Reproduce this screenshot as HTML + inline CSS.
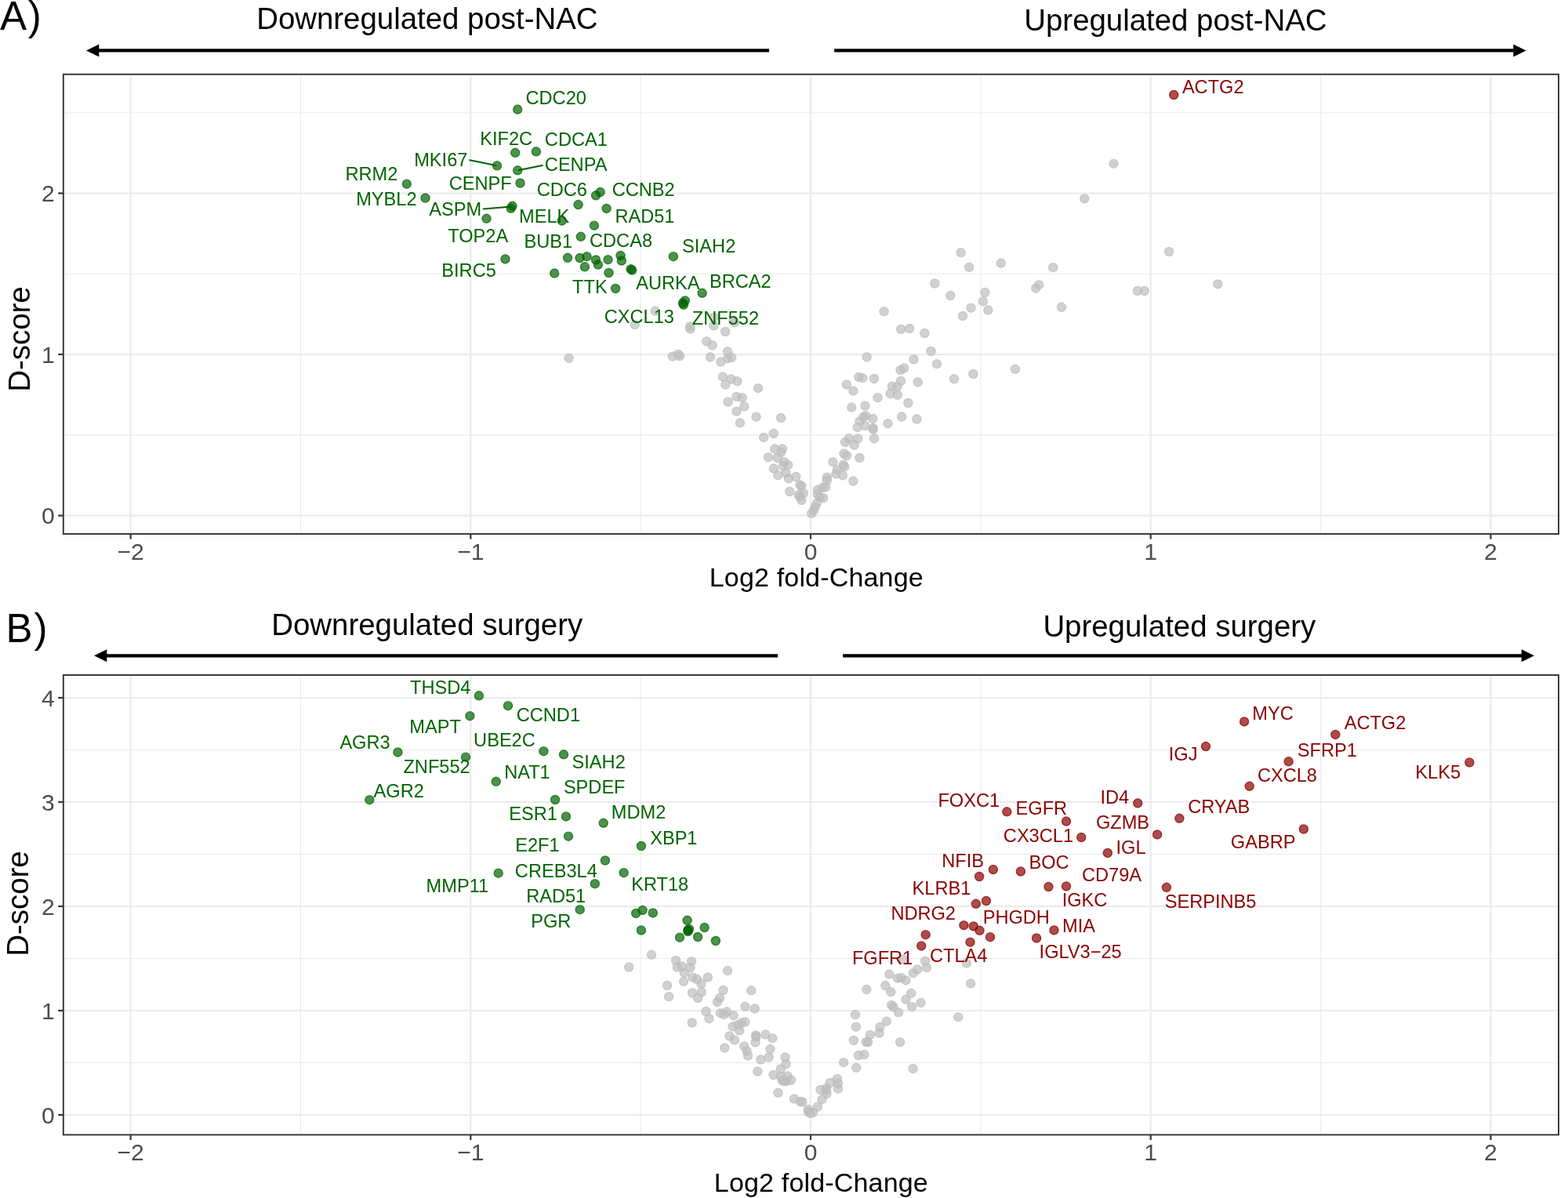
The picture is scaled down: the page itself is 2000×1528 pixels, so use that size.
<!DOCTYPE html>
<html><head><meta charset="utf-8"><title>Volcano plots</title>
<style>html,body{margin:0;padding:0;background:#fff;width:2000px;height:1528px;overflow:hidden}</style>
</head><body>
<svg width="2000" height="1528" viewBox="0 0 2000 1528" style="position:absolute;left:0;top:0">
<rect x="0" y="0" width="2000" height="1528" fill="#fff"/>
<g font-family='"Liberation Sans", Arial, Helvetica, sans-serif'>
<line x1="383.45" y1="94.8" x2="383.45" y2="681" stroke="#EBEBEB" stroke-width="1.1"/>
<line x1="817.15" y1="94.8" x2="817.15" y2="681" stroke="#EBEBEB" stroke-width="1.1"/>
<line x1="1250.85" y1="94.8" x2="1250.85" y2="681" stroke="#EBEBEB" stroke-width="1.1"/>
<line x1="1684.55" y1="94.8" x2="1684.55" y2="681" stroke="#EBEBEB" stroke-width="1.1"/>
<line x1="80.8" y1="554.83" x2="1988" y2="554.83" stroke="#EBEBEB" stroke-width="1.1"/>
<line x1="80.8" y1="349.27" x2="1988" y2="349.27" stroke="#EBEBEB" stroke-width="1.1"/>
<line x1="80.8" y1="143.73" x2="1988" y2="143.73" stroke="#EBEBEB" stroke-width="1.1"/>
<line x1="166.60" y1="94.8" x2="166.60" y2="681" stroke="#EBEBEB" stroke-width="2.2"/>
<line x1="600.30" y1="94.8" x2="600.30" y2="681" stroke="#EBEBEB" stroke-width="2.2"/>
<line x1="1034.00" y1="94.8" x2="1034.00" y2="681" stroke="#EBEBEB" stroke-width="2.2"/>
<line x1="1467.70" y1="94.8" x2="1467.70" y2="681" stroke="#EBEBEB" stroke-width="2.2"/>
<line x1="1901.40" y1="94.8" x2="1901.40" y2="681" stroke="#EBEBEB" stroke-width="2.2"/>
<line x1="80.8" y1="657.60" x2="1988" y2="657.60" stroke="#EBEBEB" stroke-width="2.2"/>
<line x1="80.8" y1="452.05" x2="1988" y2="452.05" stroke="#EBEBEB" stroke-width="2.2"/>
<line x1="80.8" y1="246.50" x2="1988" y2="246.50" stroke="#EBEBEB" stroke-width="2.2"/>
<g fill="#BEBEBE" fill-opacity="0.7" stroke="#BEBEBE" stroke-opacity="0.7" stroke-width="1.4">
<circle cx="835.8" cy="396.6" r="5.55"/>
<circle cx="809.7" cy="414.1" r="5.55"/>
<circle cx="725.6" cy="456.8" r="5.55"/>
<circle cx="857.9" cy="454.5" r="5.55"/>
<circle cx="865.3" cy="451.9" r="5.55"/>
<circle cx="867.1" cy="454.2" r="5.55"/>
<circle cx="880" cy="416.5" r="5.55"/>
<circle cx="880.6" cy="419.5" r="5.55"/>
<circle cx="910.4" cy="415.3" r="5.55"/>
<circle cx="910.7" cy="404.7" r="5.55"/>
<circle cx="937.5" cy="411.2" r="5.55"/>
<circle cx="935.4" cy="408.9" r="5.55"/>
<circle cx="925.2" cy="423" r="5.55"/>
<circle cx="901.3" cy="435.4" r="5.55"/>
<circle cx="908.6" cy="440.3" r="5.55"/>
<circle cx="906" cy="455.4" r="5.55"/>
<circle cx="928.1" cy="448.3" r="5.55"/>
<circle cx="933.1" cy="456" r="5.55"/>
<circle cx="928.1" cy="457.2" r="5.55"/>
<circle cx="919.5" cy="461.5" r="5.55"/>
<circle cx="921.9" cy="480.7" r="5.55"/>
<circle cx="932.5" cy="483.4" r="5.55"/>
<circle cx="940.4" cy="486.3" r="5.55"/>
<circle cx="925.4" cy="490.7" r="5.55"/>
<circle cx="967" cy="495.2" r="5.55"/>
<circle cx="939.5" cy="506" r="5.55"/>
<circle cx="946.6" cy="507.2" r="5.55"/>
<circle cx="928.6" cy="512.5" r="5.55"/>
<circle cx="949.3" cy="518.4" r="5.55"/>
<circle cx="939.5" cy="524.7" r="5.55"/>
<circle cx="964.6" cy="531.7" r="5.55"/>
<circle cx="996.1" cy="533.1" r="5.55"/>
<circle cx="943.9" cy="539.3" r="5.55"/>
<circle cx="986.7" cy="552.9" r="5.55"/>
<circle cx="974.1" cy="557.9" r="5.55"/>
<circle cx="988.2" cy="572.6" r="5.55"/>
<circle cx="997.8" cy="572.4" r="5.55"/>
<circle cx="996.4" cy="576.8" r="5.55"/>
<circle cx="980" cy="583.2" r="5.55"/>
<circle cx="991.6" cy="584" r="5.55"/>
<circle cx="1000.4" cy="589.2" r="5.55"/>
<circle cx="1005.2" cy="593.2" r="5.55"/>
<circle cx="998.8" cy="594.4" r="5.55"/>
<circle cx="986.8" cy="597.6" r="5.55"/>
<circle cx="1002.4" cy="603.2" r="5.55"/>
<circle cx="992.4" cy="606.2" r="5.55"/>
<circle cx="1006" cy="610.4" r="5.55"/>
<circle cx="1015.2" cy="608" r="5.55"/>
<circle cx="1020.4" cy="618.4" r="5.55"/>
<circle cx="1022.4" cy="620" r="5.55"/>
<circle cx="1007.2" cy="627" r="5.55"/>
<circle cx="1018.8" cy="631.2" r="5.55"/>
<circle cx="1024.8" cy="629.2" r="5.55"/>
<circle cx="1020.4" cy="633.6" r="5.55"/>
<circle cx="1022.4" cy="638" r="5.55"/>
<circle cx="1035.2" cy="654.8" r="5.55"/>
<circle cx="1038" cy="651.2" r="5.55"/>
<circle cx="1042.8" cy="624.8" r="5.55"/>
<circle cx="1049.2" cy="622" r="5.55"/>
<circle cx="1053.2" cy="621.2" r="5.55"/>
<circle cx="1054.8" cy="608.8" r="5.55"/>
<circle cx="1054.8" cy="612.8" r="5.55"/>
<circle cx="1042.8" cy="630.4" r="5.55"/>
<circle cx="1046" cy="634.4" r="5.55"/>
<circle cx="1050" cy="635.2" r="5.55"/>
<circle cx="1042" cy="641.6" r="5.55"/>
<circle cx="1039.6" cy="646.4" r="5.55"/>
<circle cx="1062.4" cy="589.2" r="5.55"/>
<circle cx="1076.4" cy="578.4" r="5.55"/>
<circle cx="1080" cy="581.2" r="5.55"/>
<circle cx="1096.4" cy="584" r="5.55"/>
<circle cx="1075.6" cy="592.8" r="5.55"/>
<circle cx="1077.2" cy="595.2" r="5.55"/>
<circle cx="1068" cy="599.2" r="5.55"/>
<circle cx="1066.4" cy="604.4" r="5.55"/>
<circle cx="1074.8" cy="606.4" r="5.55"/>
<circle cx="1088.4" cy="613.6" r="5.55"/>
<circle cx="1078" cy="564" r="5.55"/>
<circle cx="1089.6" cy="567.6" r="5.55"/>
<circle cx="1083" cy="559" r="5.55"/>
<circle cx="1094.2" cy="559.5" r="5.55"/>
<circle cx="1115" cy="559.3" r="5.55"/>
<circle cx="1104.2" cy="530.2" r="5.55"/>
<circle cx="1101.3" cy="531.9" r="5.55"/>
<circle cx="1113.3" cy="534.1" r="5.55"/>
<circle cx="1096.5" cy="537.2" r="5.55"/>
<circle cx="1150.1" cy="531.6" r="5.55"/>
<circle cx="1169.3" cy="534.6" r="5.55"/>
<circle cx="1132.5" cy="540.2" r="5.55"/>
<circle cx="1093.6" cy="544.9" r="5.55"/>
<circle cx="1103.4" cy="543.1" r="5.55"/>
<circle cx="1113.6" cy="546.1" r="5.55"/>
<circle cx="1113.6" cy="547.8" r="5.55"/>
<circle cx="1086.2" cy="519.6" r="5.55"/>
<circle cx="1103.4" cy="517.6" r="5.55"/>
<circle cx="1158.4" cy="514" r="5.55"/>
<circle cx="1119.5" cy="507.2" r="5.55"/>
<circle cx="1135.7" cy="502" r="5.55"/>
<circle cx="1144.8" cy="503.7" r="5.55"/>
<circle cx="1137.8" cy="492.8" r="5.55"/>
<circle cx="1144.6" cy="493.1" r="5.55"/>
<circle cx="1149" cy="486" r="5.55"/>
<circle cx="1170.8" cy="487.4" r="5.55"/>
<circle cx="1079.8" cy="490.5" r="5.55"/>
<circle cx="1088.5" cy="498.7" r="5.55"/>
<circle cx="1095.4" cy="481" r="5.55"/>
<circle cx="1100.3" cy="482.2" r="5.55"/>
<circle cx="1114.9" cy="483" r="5.55"/>
<circle cx="1216.9" cy="483.3" r="5.55"/>
<circle cx="1153.1" cy="469.5" r="5.55"/>
<circle cx="1148.5" cy="472.1" r="5.55"/>
<circle cx="1194.9" cy="464.2" r="5.55"/>
<circle cx="1165.5" cy="458.3" r="5.55"/>
<circle cx="1105.6" cy="455.4" r="5.55"/>
<circle cx="1187.5" cy="448" r="5.55"/>
<circle cx="1149.2" cy="419.9" r="5.55"/>
<circle cx="1160.2" cy="419" r="5.55"/>
<circle cx="1179.4" cy="425.1" r="5.55"/>
<circle cx="1127.6" cy="397.3" r="5.55"/>
<circle cx="1225.7" cy="322.3" r="5.55"/>
<circle cx="1236.1" cy="340.8" r="5.55"/>
<circle cx="1276.7" cy="335.6" r="5.55"/>
<circle cx="1192.3" cy="361.5" r="5.55"/>
<circle cx="1212.3" cy="377" r="5.55"/>
<circle cx="1256.4" cy="373" r="5.55"/>
<circle cx="1253.8" cy="384.4" r="5.55"/>
<circle cx="1260.3" cy="395.5" r="5.55"/>
<circle cx="1238.5" cy="392.7" r="5.55"/>
<circle cx="1228" cy="403.1" r="5.55"/>
<circle cx="1294.8" cy="470.8" r="5.55"/>
<circle cx="1241.4" cy="477" r="5.55"/>
<circle cx="1420.5" cy="208.7" r="5.55"/>
<circle cx="1383.3" cy="253.4" r="5.55"/>
<circle cx="1491.1" cy="321" r="5.55"/>
<circle cx="1343.2" cy="341.2" r="5.55"/>
<circle cx="1325.2" cy="363.2" r="5.55"/>
<circle cx="1321.2" cy="367.7" r="5.55"/>
<circle cx="1450.8" cy="371" r="5.55"/>
<circle cx="1459.7" cy="371" r="5.55"/>
<circle cx="1553.3" cy="362.4" r="5.55"/>
<circle cx="1354" cy="391.8" r="5.55"/>
</g>
<g fill="#006400" fill-opacity="0.7" stroke="#006400" stroke-opacity="0.7" stroke-width="1.4">
<circle cx="660.2" cy="139.6" r="5.55"/>
<circle cx="657.2" cy="194.8" r="5.55"/>
<circle cx="683.9" cy="193.3" r="5.55"/>
<circle cx="634" cy="211.3" r="5.55"/>
<circle cx="660.2" cy="217.3" r="5.55"/>
<circle cx="663.5" cy="233.5" r="5.55"/>
<circle cx="518.8" cy="234.7" r="5.55"/>
<circle cx="542.5" cy="252.5" r="5.55"/>
<circle cx="653.5" cy="262.8" r="5.55"/>
<circle cx="651.7" cy="265.8" r="5.55"/>
<circle cx="620.5" cy="278.8" r="5.55"/>
<circle cx="716.7" cy="281.5" r="5.55"/>
<circle cx="765.6" cy="245.1" r="5.55"/>
<circle cx="760" cy="249.3" r="5.55"/>
<circle cx="737.6" cy="261.1" r="5.55"/>
<circle cx="773.6" cy="265.9" r="5.55"/>
<circle cx="757.9" cy="287.7" r="5.55"/>
<circle cx="740.8" cy="301.8" r="5.55"/>
<circle cx="858.9" cy="327.2" r="5.55"/>
<circle cx="724" cy="328.8" r="5.55"/>
<circle cx="739.5" cy="329.1" r="5.55"/>
<circle cx="748.5" cy="327.2" r="5.55"/>
<circle cx="760" cy="331.5" r="5.55"/>
<circle cx="775.5" cy="331.2" r="5.55"/>
<circle cx="791.5" cy="325.9" r="5.55"/>
<circle cx="792.8" cy="332.5" r="5.55"/>
<circle cx="762.9" cy="337.6" r="5.55"/>
<circle cx="745.9" cy="340.3" r="5.55"/>
<circle cx="804.6" cy="343.2" r="5.55"/>
<circle cx="806.2" cy="344.6" r="5.55"/>
<circle cx="707.2" cy="348.6" r="5.55"/>
<circle cx="776.5" cy="348" r="5.55"/>
<circle cx="785.1" cy="368" r="5.55"/>
<circle cx="895.6" cy="373.8" r="5.55"/>
<circle cx="871" cy="386.5" r="5.55"/>
<circle cx="873.8" cy="383.5" r="5.55"/>
<circle cx="872" cy="388.8" r="5.55"/>
<circle cx="644.5" cy="330.4" r="5.55"/>
</g>
<g fill="#8B0000" fill-opacity="0.7" stroke="#8B0000" stroke-opacity="0.7" stroke-width="1.4">
<circle cx="1497.2" cy="121" r="5.55"/>
</g>
<line x1="599.2" y1="204.2" x2="632.5" y2="211" stroke="#006400" stroke-width="2.1" stroke-linecap="round"/>
<line x1="661.7" y1="217" x2="691.7" y2="211" stroke="#006400" stroke-width="2.1" stroke-linecap="round"/>
<line x1="616.75" y1="266.5" x2="652" y2="263.5" stroke="#006400" stroke-width="2.1" stroke-linecap="round"/>
<g font-size="23.6" fill="#006400">
<text x="670.55" y="133.10">CDC20</text>
<text x="612.20" y="185.30">KIF2C</text>
<text x="694.85" y="186.10">CDCA1</text>
<text x="528.20" y="211.60">MKI67</text>
<text x="694.85" y="217.80">CENPA</text>
<text x="440.50" y="229.90">RRM2</text>
<text x="572.75" y="242.40">CENPF</text>
<text x="684.75" y="249.90">CDC6</text>
<text x="780.75" y="249.90">CCNB2</text>
<text x="454.20" y="261.80">MYBL2</text>
<text x="547.27" y="274.90">ASPM</text>
<text x="662.00" y="283.90">MELK</text>
<text x="784.40" y="283.50">RAD51</text>
<text x="571.20" y="308.60">TOP2A</text>
<text x="668.40" y="316.00">BUB1</text>
<text x="752.05" y="315.00">CDCA8</text>
<text x="870.08" y="322.20">SIAH2</text>
<text x="563.30" y="353.40">BIRC5</text>
<text x="811.27" y="369.30">AURKA</text>
<text x="905.00" y="367.20">BRCA2</text>
<text x="730.10" y="374.20">TTK</text>
<text x="770.75" y="412.10">CXCL13</text>
<text x="882.85" y="414.20">ZNF552</text>
</g>
<g font-size="23.6" fill="#8B0000">
<text x="1507.88" y="119.40">ACTG2</text>
</g>
<rect x="80.8" y="94.8" width="1907.20" height="586.20" fill="none" stroke="#333333" stroke-width="1.9"/>
<line x1="74.2" y1="657.60" x2="80.8" y2="657.60" stroke="#333333" stroke-width="2.2"/>
<text x="69.6" y="668.10" text-anchor="end" font-size="30" fill="#4D4D4D">0</text>
<line x1="74.2" y1="452.05" x2="80.8" y2="452.05" stroke="#333333" stroke-width="2.2"/>
<text x="69.6" y="462.55" text-anchor="end" font-size="30" fill="#4D4D4D">1</text>
<line x1="74.2" y1="246.50" x2="80.8" y2="246.50" stroke="#333333" stroke-width="2.2"/>
<text x="69.6" y="257.00" text-anchor="end" font-size="30" fill="#4D4D4D">2</text>
<line x1="166.60" y1="681" x2="166.60" y2="687.60" stroke="#333333" stroke-width="2.2"/>
<text x="166.60" y="713.6" text-anchor="middle" font-size="30" fill="#4D4D4D">−2</text>
<line x1="600.30" y1="681" x2="600.30" y2="687.60" stroke="#333333" stroke-width="2.2"/>
<text x="600.30" y="713.6" text-anchor="middle" font-size="30" fill="#4D4D4D">−1</text>
<line x1="1034.00" y1="681" x2="1034.00" y2="687.60" stroke="#333333" stroke-width="2.2"/>
<text x="1034.00" y="713.6" text-anchor="middle" font-size="30" fill="#4D4D4D">0</text>
<line x1="1467.70" y1="681" x2="1467.70" y2="687.60" stroke="#333333" stroke-width="2.2"/>
<text x="1467.70" y="713.6" text-anchor="middle" font-size="30" fill="#4D4D4D">1</text>
<line x1="1901.40" y1="681" x2="1901.40" y2="687.60" stroke="#333333" stroke-width="2.2"/>
<text x="1901.40" y="713.6" text-anchor="middle" font-size="30" fill="#4D4D4D">2</text>
<line x1="383.45" y1="861" x2="383.45" y2="1447.4" stroke="#EBEBEB" stroke-width="1.1"/>
<line x1="817.15" y1="861" x2="817.15" y2="1447.4" stroke="#EBEBEB" stroke-width="1.1"/>
<line x1="1250.85" y1="861" x2="1250.85" y2="1447.4" stroke="#EBEBEB" stroke-width="1.1"/>
<line x1="1684.55" y1="861" x2="1684.55" y2="1447.4" stroke="#EBEBEB" stroke-width="1.1"/>
<line x1="80.8" y1="1355.50" x2="1988" y2="1355.50" stroke="#EBEBEB" stroke-width="1.1"/>
<line x1="80.8" y1="1222.50" x2="1988" y2="1222.50" stroke="#EBEBEB" stroke-width="1.1"/>
<line x1="80.8" y1="1089.50" x2="1988" y2="1089.50" stroke="#EBEBEB" stroke-width="1.1"/>
<line x1="80.8" y1="956.50" x2="1988" y2="956.50" stroke="#EBEBEB" stroke-width="1.1"/>
<line x1="166.60" y1="861" x2="166.60" y2="1447.4" stroke="#EBEBEB" stroke-width="2.2"/>
<line x1="600.30" y1="861" x2="600.30" y2="1447.4" stroke="#EBEBEB" stroke-width="2.2"/>
<line x1="1034.00" y1="861" x2="1034.00" y2="1447.4" stroke="#EBEBEB" stroke-width="2.2"/>
<line x1="1467.70" y1="861" x2="1467.70" y2="1447.4" stroke="#EBEBEB" stroke-width="2.2"/>
<line x1="1901.40" y1="861" x2="1901.40" y2="1447.4" stroke="#EBEBEB" stroke-width="2.2"/>
<line x1="80.8" y1="1422.00" x2="1988" y2="1422.00" stroke="#EBEBEB" stroke-width="2.2"/>
<line x1="80.8" y1="1289.00" x2="1988" y2="1289.00" stroke="#EBEBEB" stroke-width="2.2"/>
<line x1="80.8" y1="1156.00" x2="1988" y2="1156.00" stroke="#EBEBEB" stroke-width="2.2"/>
<line x1="80.8" y1="1023.00" x2="1988" y2="1023.00" stroke="#EBEBEB" stroke-width="2.2"/>
<line x1="80.8" y1="890.00" x2="1988" y2="890.00" stroke="#EBEBEB" stroke-width="2.2"/>
<g fill="#BEBEBE" fill-opacity="0.7" stroke="#BEBEBE" stroke-opacity="0.7" stroke-width="1.4">
<circle cx="831" cy="1217.8" r="5.55"/>
<circle cx="802.2" cy="1233.5" r="5.55"/>
<circle cx="862" cy="1225" r="5.55"/>
<circle cx="882" cy="1226.2" r="5.55"/>
<circle cx="863.8" cy="1233.5" r="5.55"/>
<circle cx="870" cy="1232.5" r="5.55"/>
<circle cx="880.5" cy="1234" r="5.55"/>
<circle cx="872.8" cy="1240.8" r="5.55"/>
<circle cx="928" cy="1238" r="5.55"/>
<circle cx="883.5" cy="1246.5" r="5.55"/>
<circle cx="889" cy="1249" r="5.55"/>
<circle cx="902.8" cy="1246.5" r="5.55"/>
<circle cx="894.5" cy="1254.8" r="5.55"/>
<circle cx="872" cy="1251.8" r="5.55"/>
<circle cx="851" cy="1257" r="5.55"/>
<circle cx="922.5" cy="1263" r="5.55"/>
<circle cx="958.2" cy="1263.3" r="5.55"/>
<circle cx="883" cy="1266.5" r="5.55"/>
<circle cx="894.8" cy="1265.5" r="5.55"/>
<circle cx="890" cy="1273" r="5.55"/>
<circle cx="853.2" cy="1271.2" r="5.55"/>
<circle cx="918" cy="1272.8" r="5.55"/>
<circle cx="915" cy="1278" r="5.55"/>
<circle cx="950.4" cy="1283.8" r="5.55"/>
<circle cx="962.7" cy="1286.5" r="5.55"/>
<circle cx="900.5" cy="1290" r="5.55"/>
<circle cx="919" cy="1292.2" r="5.55"/>
<circle cx="927" cy="1290.5" r="5.55"/>
<circle cx="923.5" cy="1294" r="5.55"/>
<circle cx="935.5" cy="1295.2" r="5.55"/>
<circle cx="904.5" cy="1299.2" r="5.55"/>
<circle cx="882.8" cy="1304.5" r="5.55"/>
<circle cx="950.5" cy="1303.3" r="5.55"/>
<circle cx="946" cy="1304.3" r="5.55"/>
<circle cx="941.5" cy="1307" r="5.55"/>
<circle cx="934.5" cy="1309.3" r="5.55"/>
<circle cx="943.2" cy="1314.5" r="5.55"/>
<circle cx="930.5" cy="1321.5" r="5.55"/>
<circle cx="937" cy="1326.5" r="5.55"/>
<circle cx="964" cy="1320.5" r="5.55"/>
<circle cx="964.5" cy="1322.5" r="5.55"/>
<circle cx="963.5" cy="1329.5" r="5.55"/>
<circle cx="976.5" cy="1319.5" r="5.55"/>
<circle cx="985.3" cy="1324.2" r="5.55"/>
<circle cx="924.3" cy="1336.5" r="5.55"/>
<circle cx="949.3" cy="1334.5" r="5.55"/>
<circle cx="952.5" cy="1340.5" r="5.55"/>
<circle cx="954" cy="1346.5" r="5.55"/>
<circle cx="982.5" cy="1338" r="5.55"/>
<circle cx="980.5" cy="1348.5" r="5.55"/>
<circle cx="970.3" cy="1351.5" r="5.55"/>
<circle cx="1001.5" cy="1348.5" r="5.55"/>
<circle cx="1002.5" cy="1357" r="5.55"/>
<circle cx="966.3" cy="1366.5" r="5.55"/>
<circle cx="995.8" cy="1363.5" r="5.55"/>
<circle cx="986.5" cy="1371" r="5.55"/>
<circle cx="1004.5" cy="1372.5" r="5.55"/>
<circle cx="1000" cy="1379" r="5.55"/>
<circle cx="997.5" cy="1378" r="5.55"/>
<circle cx="1009" cy="1377.5" r="5.55"/>
<circle cx="1003" cy="1379" r="5.55"/>
<circle cx="996" cy="1373" r="5.55"/>
<circle cx="992.5" cy="1393.8" r="5.55"/>
<circle cx="1013" cy="1401.5" r="5.55"/>
<circle cx="1021" cy="1405" r="5.55"/>
<circle cx="1023.5" cy="1405.5" r="5.55"/>
<circle cx="1031" cy="1415" r="5.55"/>
<circle cx="1033.5" cy="1420" r="5.55"/>
<circle cx="1037" cy="1419" r="5.55"/>
<circle cx="1031" cy="1418" r="5.55"/>
<circle cx="1043" cy="1411.5" r="5.55"/>
<circle cx="1048.5" cy="1402.2" r="5.55"/>
<circle cx="1046.5" cy="1390" r="5.55"/>
<circle cx="1054" cy="1388" r="5.55"/>
<circle cx="1054.5" cy="1395" r="5.55"/>
<circle cx="1053.5" cy="1390.5" r="5.55"/>
<circle cx="1058.8" cy="1381" r="5.55"/>
<circle cx="1068" cy="1376" r="5.55"/>
<circle cx="1068.8" cy="1382" r="5.55"/>
<circle cx="1069" cy="1388.5" r="5.55"/>
<circle cx="1076.1" cy="1355.2" r="5.55"/>
<circle cx="1092.2" cy="1361.8" r="5.55"/>
<circle cx="1095" cy="1346" r="5.55"/>
<circle cx="1088.8" cy="1327" r="5.55"/>
<circle cx="1091.8" cy="1309.7" r="5.55"/>
<circle cx="1102.4" cy="1345.1" r="5.55"/>
<circle cx="1107.1" cy="1329.3" r="5.55"/>
<circle cx="1104.8" cy="1329" r="5.55"/>
<circle cx="1148.1" cy="1329.3" r="5.55"/>
<circle cx="1109.7" cy="1319.9" r="5.55"/>
<circle cx="1122.4" cy="1310.1" r="5.55"/>
<circle cx="1121.5" cy="1317.5" r="5.55"/>
<circle cx="1130.9" cy="1302.7" r="5.55"/>
<circle cx="1090.9" cy="1294.2" r="5.55"/>
<circle cx="1222.3" cy="1297.2" r="5.55"/>
<circle cx="1146" cy="1291.3" r="5.55"/>
<circle cx="1137.1" cy="1281.9" r="5.55"/>
<circle cx="1139.5" cy="1284.2" r="5.55"/>
<circle cx="1162.2" cy="1266.8" r="5.55"/>
<circle cx="1155.6" cy="1274.8" r="5.55"/>
<circle cx="1174.5" cy="1278.9" r="5.55"/>
<circle cx="1163.1" cy="1284.2" r="5.55"/>
<circle cx="1129.3" cy="1257.1" r="5.55"/>
<circle cx="1105.3" cy="1262.1" r="5.55"/>
<circle cx="1136.3" cy="1265.1" r="5.55"/>
<circle cx="1238.1" cy="1254.4" r="5.55"/>
<circle cx="1134.2" cy="1242.4" r="5.55"/>
<circle cx="1144.8" cy="1247.7" r="5.55"/>
<circle cx="1149.5" cy="1247.1" r="5.55"/>
<circle cx="1155.4" cy="1250.4" r="5.55"/>
<circle cx="1170.1" cy="1236.5" r="5.55"/>
<circle cx="1164.8" cy="1241.2" r="5.55"/>
<circle cx="1151.9" cy="1223.6" r="5.55"/>
<circle cx="1180.1" cy="1225.9" r="5.55"/>
<circle cx="1181.9" cy="1234.2" r="5.55"/>
<circle cx="1232.9" cy="1228.5" r="5.55"/>
<circle cx="1164.6" cy="1363.1" r="5.55"/>
</g>
<g fill="#006400" fill-opacity="0.7" stroke="#006400" stroke-opacity="0.7" stroke-width="1.4">
<circle cx="610.9" cy="887.3" r="5.55"/>
<circle cx="648" cy="900.2" r="5.55"/>
<circle cx="599.4" cy="913.2" r="5.55"/>
<circle cx="507.4" cy="959.4" r="5.55"/>
<circle cx="693.4" cy="958.2" r="5.55"/>
<circle cx="719" cy="962.3" r="5.55"/>
<circle cx="594" cy="965.7" r="5.55"/>
<circle cx="632.7" cy="996.8" r="5.55"/>
<circle cx="471.3" cy="1020.2" r="5.55"/>
<circle cx="708.1" cy="1020" r="5.55"/>
<circle cx="722" cy="1041.4" r="5.55"/>
<circle cx="769.7" cy="1049.8" r="5.55"/>
<circle cx="725" cy="1066.7" r="5.55"/>
<circle cx="817.9" cy="1079" r="5.55"/>
<circle cx="771.9" cy="1097.5" r="5.55"/>
<circle cx="795.6" cy="1113.2" r="5.55"/>
<circle cx="758.8" cy="1127.2" r="5.55"/>
<circle cx="635.7" cy="1113.7" r="5.55"/>
<circle cx="739.7" cy="1160.2" r="5.55"/>
<circle cx="811.2" cy="1164.9" r="5.55"/>
<circle cx="819.6" cy="1160.9" r="5.55"/>
<circle cx="832.8" cy="1164.4" r="5.55"/>
<circle cx="817.9" cy="1186.5" r="5.55"/>
<circle cx="876.6" cy="1173.8" r="5.55"/>
<circle cx="877.4" cy="1186.5" r="5.55"/>
<circle cx="878.9" cy="1185" r="5.55"/>
<circle cx="877.4" cy="1188" r="5.55"/>
<circle cx="898.6" cy="1183.1" r="5.55"/>
<circle cx="867" cy="1195.7" r="5.55"/>
<circle cx="890.1" cy="1195.1" r="5.55"/>
<circle cx="912.9" cy="1200" r="5.55"/>
</g>
<g fill="#8B0000" fill-opacity="0.7" stroke="#8B0000" stroke-opacity="0.7" stroke-width="1.4">
<circle cx="1587.1" cy="920.4" r="5.55"/>
<circle cx="1703.3" cy="936.9" r="5.55"/>
<circle cx="1538" cy="952.1" r="5.55"/>
<circle cx="1643.6" cy="971.3" r="5.55"/>
<circle cx="1874.3" cy="972.5" r="5.55"/>
<circle cx="1593.7" cy="1002.8" r="5.55"/>
<circle cx="1451.2" cy="1024.4" r="5.55"/>
<circle cx="1284.3" cy="1035.3" r="5.55"/>
<circle cx="1504.4" cy="1043.8" r="5.55"/>
<circle cx="1360" cy="1047.6" r="5.55"/>
<circle cx="1662.8" cy="1057.5" r="5.55"/>
<circle cx="1476.1" cy="1064.4" r="5.55"/>
<circle cx="1379.2" cy="1068.1" r="5.55"/>
<circle cx="1412.8" cy="1087.9" r="5.55"/>
<circle cx="1266.8" cy="1109.1" r="5.55"/>
<circle cx="1249.1" cy="1118" r="5.55"/>
<circle cx="1301.9" cy="1111.5" r="5.55"/>
<circle cx="1337.4" cy="1131.1" r="5.55"/>
<circle cx="1360" cy="1130.4" r="5.55"/>
<circle cx="1487.9" cy="1131.8" r="5.55"/>
<circle cx="1257.9" cy="1149.1" r="5.55"/>
<circle cx="1244.8" cy="1152.8" r="5.55"/>
<circle cx="1229.4" cy="1180.2" r="5.55"/>
<circle cx="1241.8" cy="1181.4" r="5.55"/>
<circle cx="1249.5" cy="1186.8" r="5.55"/>
<circle cx="1180.7" cy="1192.2" r="5.55"/>
<circle cx="1263" cy="1195.2" r="5.55"/>
<circle cx="1344.5" cy="1186.4" r="5.55"/>
<circle cx="1322.1" cy="1196.5" r="5.55"/>
<circle cx="1237.5" cy="1201.7" r="5.55"/>
<circle cx="1175.2" cy="1206.4" r="5.55"/>
</g>
<g font-size="23.6" fill="#006400">
<text x="523.00" y="885.10">THSD4</text>
<text x="658.75" y="920.30">CCND1</text>
<text x="522.30" y="935.10">MAPT</text>
<text x="433.38" y="955.10">AGR3</text>
<text x="604.12" y="952.10">UBE2C</text>
<text x="514.45" y="985.80">ZNF552</text>
<text x="643.20" y="993.20">NAT1</text>
<text x="476.57" y="1017.30">AGR2</text>
<text x="729.58" y="980.30">SIAH2</text>
<text x="718.88" y="1011.90">SPDEF</text>
<text x="649.20" y="1046.10">ESR1</text>
<text x="779.80" y="1043.80">MDM2</text>
<text x="657.20" y="1085.80">E2F1</text>
<text x="829.17" y="1077.10">XBP1</text>
<text x="656.85" y="1118.90">CREB3L4</text>
<text x="805.20" y="1135.60">KRT18</text>
<text x="543.60" y="1137.90">MMP11</text>
<text x="671.20" y="1151.30">RAD51</text>
<text x="677.20" y="1183.30">PGR</text>
</g>
<g font-size="23.6" fill="#8B0000">
<text x="1597.30" y="918.10">MYC</text>
<text x="1714.67" y="929.80">ACTG2</text>
<text x="1490.78" y="969.80">IGJ</text>
<text x="1654.78" y="965.00">SFRP1</text>
<text x="1805.30" y="993.30">KLK5</text>
<text x="1603.95" y="997.00">CXCL8</text>
<text x="1515.15" y="1036.50">CRYAB</text>
<text x="1403.47" y="1024.50">ID4</text>
<text x="1196.40" y="1029.30">FOXC1</text>
<text x="1295.60" y="1039.10">EGFR</text>
<text x="1397.95" y="1056.50">GZMB</text>
<text x="1569.85" y="1082.10">GABRP</text>
<text x="1279.85" y="1073.50">CX3CL1</text>
<text x="1423.47" y="1089.30">IGL</text>
<text x="1201.20" y="1106.10">NFIB</text>
<text x="1312.50" y="1108.10">BOC</text>
<text x="1379.95" y="1123.80">CD79A</text>
<text x="1485.67" y="1158.30">SERPINB5</text>
<text x="1163.60" y="1141.10">KLRB1</text>
<text x="1354.67" y="1156.10">IGKC</text>
<text x="1136.40" y="1173.10">NDRG2</text>
<text x="1253.70" y="1177.70">PHGDH</text>
<text x="1355.10" y="1188.60">MIA</text>
<text x="1325.58" y="1222.20">IGLV3−25</text>
<text x="1185.95" y="1227.20">CTLA4</text>
<text x="1086.90" y="1230.30">FGFR1</text>
</g>
<rect x="80.8" y="861" width="1907.20" height="586.40" fill="none" stroke="#333333" stroke-width="1.9"/>
<line x1="74.2" y1="1422.00" x2="80.8" y2="1422.00" stroke="#333333" stroke-width="2.2"/>
<text x="69.6" y="1432.50" text-anchor="end" font-size="30" fill="#4D4D4D">0</text>
<line x1="74.2" y1="1289.00" x2="80.8" y2="1289.00" stroke="#333333" stroke-width="2.2"/>
<text x="69.6" y="1299.50" text-anchor="end" font-size="30" fill="#4D4D4D">1</text>
<line x1="74.2" y1="1156.00" x2="80.8" y2="1156.00" stroke="#333333" stroke-width="2.2"/>
<text x="69.6" y="1166.50" text-anchor="end" font-size="30" fill="#4D4D4D">2</text>
<line x1="74.2" y1="1023.00" x2="80.8" y2="1023.00" stroke="#333333" stroke-width="2.2"/>
<text x="69.6" y="1033.50" text-anchor="end" font-size="30" fill="#4D4D4D">3</text>
<line x1="74.2" y1="890.00" x2="80.8" y2="890.00" stroke="#333333" stroke-width="2.2"/>
<text x="69.6" y="900.50" text-anchor="end" font-size="30" fill="#4D4D4D">4</text>
<line x1="166.60" y1="1447.4" x2="166.60" y2="1454.00" stroke="#333333" stroke-width="2.2"/>
<text x="166.60" y="1479.6" text-anchor="middle" font-size="30" fill="#4D4D4D">−2</text>
<line x1="600.30" y1="1447.4" x2="600.30" y2="1454.00" stroke="#333333" stroke-width="2.2"/>
<text x="600.30" y="1479.6" text-anchor="middle" font-size="30" fill="#4D4D4D">−1</text>
<line x1="1034.00" y1="1447.4" x2="1034.00" y2="1454.00" stroke="#333333" stroke-width="2.2"/>
<text x="1034.00" y="1479.6" text-anchor="middle" font-size="30" fill="#4D4D4D">0</text>
<line x1="1467.70" y1="1447.4" x2="1467.70" y2="1454.00" stroke="#333333" stroke-width="2.2"/>
<text x="1467.70" y="1479.6" text-anchor="middle" font-size="30" fill="#4D4D4D">1</text>
<line x1="1901.40" y1="1447.4" x2="1901.40" y2="1454.00" stroke="#333333" stroke-width="2.2"/>
<text x="1901.40" y="1479.6" text-anchor="middle" font-size="30" fill="#4D4D4D">2</text>
<text x="327.18" y="36.8" font-size="38.4" fill="#000" >Downregulated post-NAC</text>
<text x="1306.30" y="39.3" font-size="38.4" fill="#000" >Upregulated post-NAC</text>
<text x="346.27" y="810.2" font-size="38.4" fill="#000" >Downregulated surgery</text>
<text x="1330.40" y="811.5" font-size="38.4" fill="#000" >Upregulated surgery</text>
<text x="-0.12" y="37.8" font-size="51" fill="#000" letter-spacing="1.9">A)</text>
<text x="7.47" y="818.7" font-size="51" fill="#000" letter-spacing="1.9">B)</text>
<text x="904.75" y="748.2" font-size="34" fill="#000" letter-spacing="0.17">Log2 fold-Change</text>
<text x="910.85" y="1519.6" font-size="34" fill="#000" letter-spacing="0.17">Log2 fold-Change</text>
<text transform="translate(37.9,499.73) rotate(-90)" font-size="38.4" fill="#000">D-score</text>
<text transform="translate(35.9,1219.72) rotate(-90)" font-size="38.4" fill="#000">D-score</text>
<line x1="126" y1="64.45" x2="981.1" y2="64.45" stroke="#000" stroke-width="4.3"/>
<polygon points="110,64.45 126.3,56.45 126.3,72.45" fill="#000"/>
<line x1="1064.1" y1="64.45" x2="1930.6" y2="64.45" stroke="#000" stroke-width="4.3"/>
<polygon points="1946.6,64.45 1930.3,56.45 1930.3,72.45" fill="#000"/>
<line x1="136" y1="836.35" x2="992" y2="836.35" stroke="#000" stroke-width="4.3"/>
<polygon points="120,836.35 136.3,828.35 136.3,844.35" fill="#000"/>
<line x1="1075.1" y1="836.35" x2="1941" y2="836.35" stroke="#000" stroke-width="4.3"/>
<polygon points="1957,836.35 1940.7,828.35 1940.7,844.35" fill="#000"/>
</g></svg>
</body></html>
